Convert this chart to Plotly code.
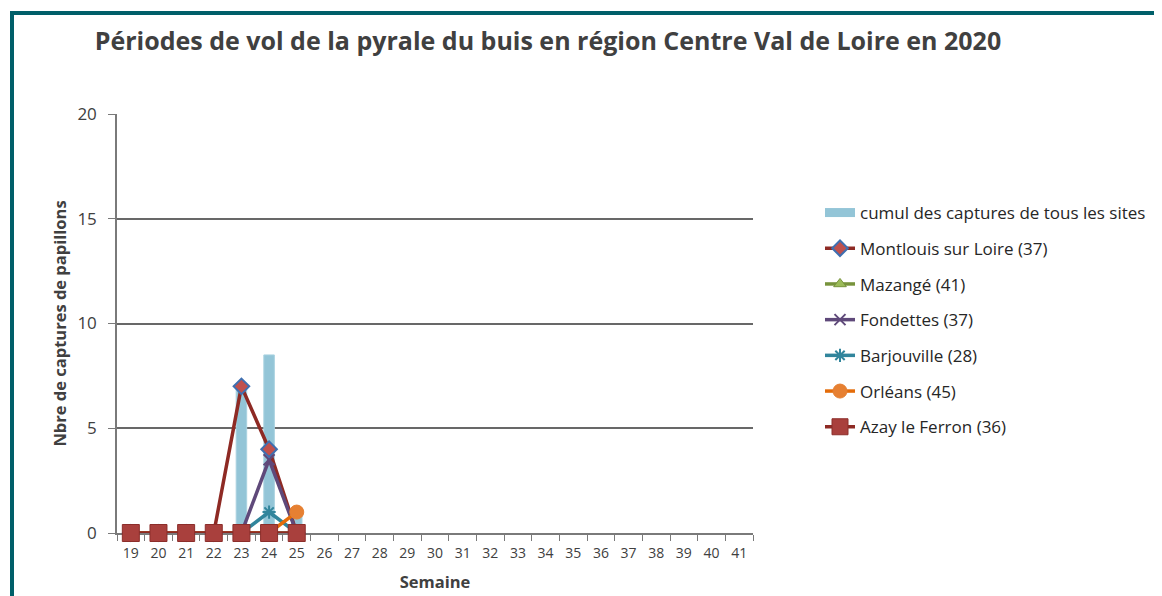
import plotly.graph_objects as go

weeks = [str(w) for w in range(19, 42)]
series_weeks = ["19", "20", "21", "22", "23", "24", "25"]

cumul = [None, None, None, None, 7, 8.5, 1]
montlouis = [0, 0, 0, 0, 7, 4, 0]
mazange = [0, 0, 0, 0, 0, 0, 0]
fondettes = [0, 0, 0, 0, 0, 3.5, 0]
barjouville = [0, 0, 0, 0, 0, 1, 0]
orleans = [0, 0, 0, 0, 0, 0, 1]
azay = [0, 0, 0, 0, 0, 0, 0]

names = ["cumul des captures de tous les sites", "Montlouis sur Loire (37)", "Mazangé (41)",
         "Fondettes (37)", "Barjouville (28)", "Orléans (45)", "Azay le Ferron (36)"]

FONT = "Open Sans"
TXT = "#404040"
BAR_COLOR = "#93C5D7"

# page body has an 8px margin: figure coords = page coords - 8
W, H = 1154, 588
L, T, R, B = 109, 106, 409, 63
PW, PH = W - L - R, H - T - B


def px_x(x):
    return (x - 8 - L) / PW


def px_y(y):
    return (H - B - (y - 8)) / PH


fig = go.Figure()
fig.add_trace(go.Bar(x=series_weeks, y=cumul, name=names[0], width=0.38,
                     marker=dict(color=BAR_COLOR, line=dict(color="#A9D2E0", width=1)),
                     showlegend=False, legendgroup="g0"))
# legend proxy for the bar series (wide rectangle swatch as in the original)
fig.add_trace(go.Scatter(x=[None], y=[None], name=names[0], mode="lines",
                         line=dict(color=BAR_COLOR, width=9), legendgroup="g0"))

line_specs = [
    (montlouis, names[1], "#8E2A24", dict(symbol="diamond", size=12, color="#C0504D", line=dict(color="#3F6FB0", width=2))),
    (mazange, names[2], "#77933C", dict(symbol="triangle-up", size=11, color="#9BBB59", line=dict(color="#77933C", width=1))),
    (fondettes, names[3], "#5F497A", dict(symbol="x-thin", size=11, color="#5F497A", line=dict(color="#5F497A", width=2))),
    (barjouville, names[4], "#31859C", dict(symbol="asterisk", size=11, color="#31859C", line=dict(color="#31859C", width=2))),
    (orleans, names[5], "#E46C0A", dict(symbol="circle", size=14, color="#E68032", line=dict(color="#E68032", width=1))),
    (azay, names[6], "#8E2A24", dict(symbol="square", size=17, color="#A9403D", line=dict(color="#8C2E2B", width=1))),
]
for i, (vals, nm, col, mk) in enumerate(line_specs):
    fig.add_trace(go.Scatter(x=series_weeks, y=vals, name=nm, mode="lines+markers",
                             line=dict(color=col, width=3.5), marker=mk,
                             cliponaxis=False, legendgroup="g%d" % (i + 1)))

# outer frame
fig.add_shape(type="line", xref="paper", yref="paper",
              x0=px_x(10), x1=px_x(1180), y0=px_y(13), y1=px_y(13),
              line=dict(color="#005F69", width=4))
fig.add_shape(type="line", xref="paper", yref="paper",
              x0=px_x(12), x1=px_x(12), y0=px_y(11), y1=px_y(610),
              line=dict(color="#005F69", width=4))

fig.update_layout(
    width=W, height=H,
    margin=dict(l=L, r=R, t=T, b=B, autoexpand=False),
    paper_bgcolor="white", plot_bgcolor="white",
    font=dict(family=FONT, color=TXT),
    title=dict(text="<b>Périodes de vol de la pyrale du buis en région Centre Val de Loire en 2020</b>",
               x=(548 - 8) / W, xref="container", xanchor="center",
               y=1 - (41 - 8) / H, yref="container", yanchor="middle",
               font=dict(family=FONT, size=25, color=TXT)),
    showlegend=True,
    legend=dict(x=px_x(820), y=px_y(195), xanchor="left", yanchor="top",
                font=dict(family=FONT, size=17, color="#262626"),
                tracegroupgap=10.6, traceorder="grouped", bgcolor="rgba(0,0,0,0)"),
)
fig.update_xaxes(type="category", categoryorder="array", categoryarray=weeks,
                 range=[-0.5, len(weeks) - 0.5], automargin=False,
                 showline=True, linecolor="#7A7A7A", linewidth=1.5,
                 ticks="outside", tickson="boundaries", ticklen=6, tickcolor="#7A7A7A",
                 ticklabelstandoff=6,
                 tickfont=dict(size=14, color=TXT), showgrid=False, layer="below traces",
                 title=dict(text="<b>Semaine</b>", font=dict(size=16.5, color=TXT), standoff=16))
fig.update_yaxes(range=[0, 20], tickvals=[0, 5, 10, 15, 20], showgrid=True, automargin=False,
                 gridcolor="#686868", gridwidth=2,
                 showline=True, linecolor="#7A7A7A", linewidth=1.5,
                 ticks="outside", ticklen=7, tickcolor="#7A7A7A",
                 ticklabelstandoff=8,
                 tickfont=dict(size=17, color=TXT), zeroline=False,
                 title=dict(text="<b>Nbre de captures de papillons</b>", font=dict(size=16.5, color=TXT), standoff=7))

fig.write_html("out.html")
